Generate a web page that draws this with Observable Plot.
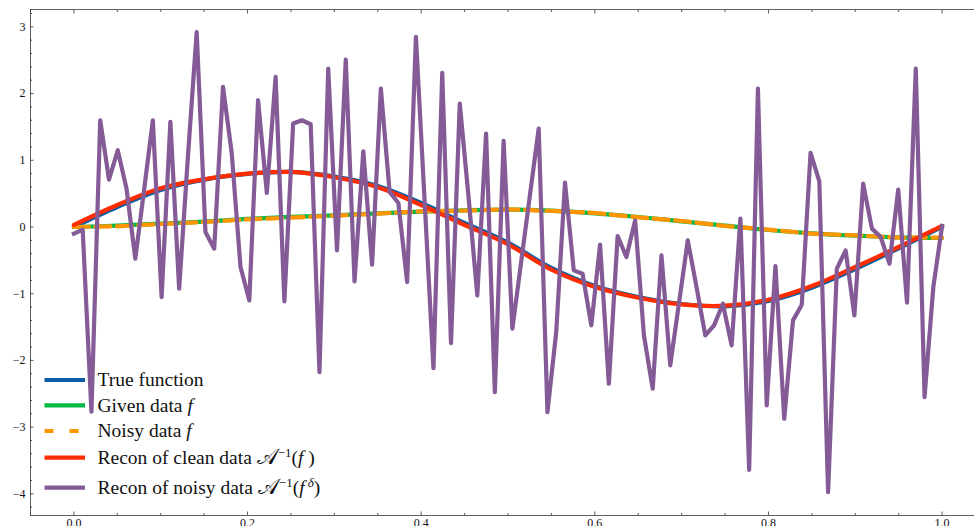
<!DOCTYPE html>
<html><head><meta charset="utf-8">
<script src="https://cdn.jsdelivr.net/npm/d3@7"></script>
<script src="https://cdn.jsdelivr.net/npm/@observablehq/plot@0.6"></script>
<style>
html,body{margin:0;padding:0;background:#fff;overflow:hidden;}
#wrap{width:974px;height:526px;overflow:hidden;position:relative;background:#fff;}
</style></head><body><div id="wrap"></div>
<script>
// smooth curves sampled every 0.05
const xSmooth = [0,0.05,0.1,0.15,0.2,0.25,0.3,0.35,0.4,0.45,0.5,0.55,0.6,0.65,0.7,0.75,0.8,0.85,0.9,0.95,1.0];
const trueFunction = [0.0,0.30,0.555,0.71,0.795,0.825,0.755,0.615,0.36,0.06,-0.235,-0.615,-0.885,-1.05,-1.155,-1.19,-1.11,-0.91,-0.63,-0.32,0.0];
const givenData = [0,0.02,0.05,0.08,0.12,0.15,0.175,0.205,0.23,0.25,0.26,0.245,0.205,0.15,0.085,0.02,-0.045,-0.095,-0.13,-0.155,-0.165];
const noisyData = [0.0,0.01,0.045,0.075,0.115,0.14,0.17,0.2,0.235,0.245,0.265,0.24,0.21,0.145,0.09,0.015,-0.04,-0.1,-0.125,-0.16,-0.16];
const reconClean = [0.03,0.33,0.58,0.715,0.80,0.825,0.745,0.595,0.33,0.03,-0.26,-0.64,-0.90,-1.06,-1.16,-1.18,-1.09,-0.885,-0.60,-0.30,0.015];
// reconstruction of noisy data, 100 samples on [0, 1]
const reconNoisy = [
 -0.10,-0.04,-2.77,1.60,0.71,1.15,0.575,-0.475,0.55,1.60,
 -1.05,1.575,-0.925,1.05,2.92,-0.075,-0.325,2.10,1.10,-0.60,
 -1.10,1.90,0.51,2.25,-1.115,1.55,1.60,1.54,-2.175,2.375,
 -0.35,2.51,-0.815,1.135,-0.565,2.075,0.525,0.36,-0.825,2.85,
 0.37,-2.115,2.31,-1.74,1.85,0.45,-1.025,1.40,-2.475,1.29,
 -1.525,-0.525,0.475,1.475,-2.775,-1.575,0.665,-0.65,-0.70,-1.475,
 -0.265,-2.35,-0.135,-0.45,0.10,-1.625,-2.425,-0.425,-2.075,-1.14,
 -0.20,-0.90,-1.625,-1.475,-1.15,-1.775,0.125,-3.64,2.075,-2.675,
 -0.585,-2.875,-1.40,-1.165,1.11,0.685,-3.975,-0.625,-0.35,-1.325,
 0.65,-0.025,-0.15,-0.55,0.56,-1.135,2.375,-2.55,-0.90,0.015
];
const xNoisy = reconNoisy.map((_, i) => i / (reconNoisy.length - 1));
const xTicks = [0,0.2,0.4,0.6,0.8,1.0];
const yTicks = [-4,-3,-2,-1,0,1,2,3];
const xMinor = [-0.05,0.05,0.1,0.15,0.25,0.3,0.35,0.45,0.5,0.55,0.65,0.7,0.75,0.85,0.9,0.95,1.05];
const yMinor = [-4.2,-3.8,-3.6,-3.4,-3.2,-2.8,-2.6,-2.4,-2.2,-1.8,-1.6,-1.4,-1.2,-0.8,-0.6,-0.4,-0.2,0.2,0.4,0.6,0.8,1.2,1.4,1.6,1.8,2.2,2.4,2.6,2.8,3.2];
const colors = {blue:"#0C5DA5", green:"#00B945", orange:"#FF9500", red:"#FF2C00", purple:"#845B97"};
const legendItems = [
  {color: colors.blue, dash: null, parts: [{t:"True function"}]},
  {color: colors.green, dash: null, parts: [{t:"Given data "},{t:"f",i:true}]},
  {color: colors.orange, dash: "15,6.5", parts: [{t:"Noisy data "},{t:"f",i:true}]},
  {color: colors.red, dash: null, parts: [{t:"Recon of clean data "},{t:"𝒜",big:true},{t:"−1",sup:true},{t:"("},{t:"f",i:true},{t:" )"}]},
  {color: colors.purple, dash: null, parts: [{t:"Recon of noisy data "},{t:"𝒜",big:true},{t:"−1",sup:true},{t:"("},{t:"f",i:true},{t:" δ",sup:true,i:true},{t:")"}]}
];

const smooth = xSmooth.map((x, i) => ({x, t: trueFunction[i], g: givenData[i], n: noisyData[i], r: reconClean[i]}));
const noisy = xNoisy.map((x, i) => ({x, y: reconNoisy[i]}));
const LW = 4.2;
const tickStyle = {stroke: "#333", strokeWidth: 0.8, text: null, label: null};

const chart = Plot.plot({
  width: 990, height: 526,
  marginLeft: 30, marginRight: 5, marginTop: 9, marginBottom: 11,
  style: {fontFamily: "'Liberation Serif', serif", fontSize: "12px", background: "white", maxWidth: "none", overflow: "visible", color: "#111"},
  x: {domain: [-0.05, 1.05], label: null},
  y: {domain: [-4.325, 3.26], label: null},
  marks: [
    Plot.line(smooth, {x: "x", y: "t", stroke: colors.blue, strokeWidth: LW, curve: "catmull-rom"}),
    Plot.line(smooth, {x: "x", y: "g", stroke: colors.green, strokeWidth: LW, curve: "catmull-rom"}),
    Plot.line(smooth, {x: "x", y: "n", stroke: colors.orange, strokeWidth: LW, strokeDasharray: "15,6.5", curve: "linear"}),
    Plot.line(smooth, {x: "x", y: "r", stroke: colors.red, strokeWidth: LW, curve: "catmull-rom"}),
    Plot.line(noisy, {x: "x", y: "y", stroke: colors.purple, strokeWidth: LW, strokeLinejoin: "round", strokeLinecap: "square"}),
    Plot.frame({stroke: "#3a3a3a", strokeWidth: 0.8}),
    Plot.axisX(xTicks, {anchor: "bottom", tickSize: 0, tickPadding: 3, tickFormat: d3.format(".1f"), label: null}),
    Plot.axisY(yTicks, {anchor: "left", tickSize: 0, tickPadding: 5, tickFormat: d3.format("d"), label: null}),
    Plot.axisX(xTicks, {anchor: "bottom", tickSize: -3.5, ...tickStyle}),
    Plot.axisX(xMinor, {anchor: "bottom", tickSize: -2, ...tickStyle}),
    Plot.axisX(xTicks, {anchor: "top", tickSize: -3.5, ...tickStyle}),
    Plot.axisX(xMinor, {anchor: "top", tickSize: -2, ...tickStyle}),
    Plot.axisY(yTicks, {anchor: "left", tickSize: -3.5, ...tickStyle}),
    Plot.axisY(yMinor, {anchor: "left", tickSize: -2, ...tickStyle}),
    Plot.axisY(yTicks, {anchor: "right", tickSize: -3.5, ...tickStyle}),
    Plot.axisY(yMinor, {anchor: "right", tickSize: -2, ...tickStyle})
  ]
});
document.getElementById("wrap").appendChild(chart);

// legend (inside axes, lower left, no frame)
const svg = d3.select(chart);
const lg = svg.append("g").attr("font-family", "'Liberation Serif', serif").attr("font-size", 19.5)
  .attr("fill", "#111").attr("text-anchor", "start");
const rowY = [380, 405.3, 431, 457.7, 487.7];
legendItems.forEach((item, k) => {
  const y = rowY[k];
  lg.append("line").attr("x1", 44.5).attr("x2", 85).attr("y1", y).attr("y2", y)
    .attr("stroke", item.color).attr("stroke-width", LW)
    .attr("stroke-dasharray", item.dash ? "9,16" : null);
  const text = lg.append("text").attr("x", 97.5).attr("y", y + 6.3).attr("text-anchor", "start");
  let raised = false;
  item.parts.forEach(p => {
    const ts = text.append("tspan").text(p.t);
    if (p.i) ts.attr("font-style", "italic");
    if (p.big) ts.attr("font-size", 22);
    if (p.sup) { ts.attr("font-size", 13).attr("dy", raised ? 0 : -7.5); raised = true; }
    else if (raised) { ts.attr("dy", 7.5); raised = false; }
  });
});
</script></body></html>
